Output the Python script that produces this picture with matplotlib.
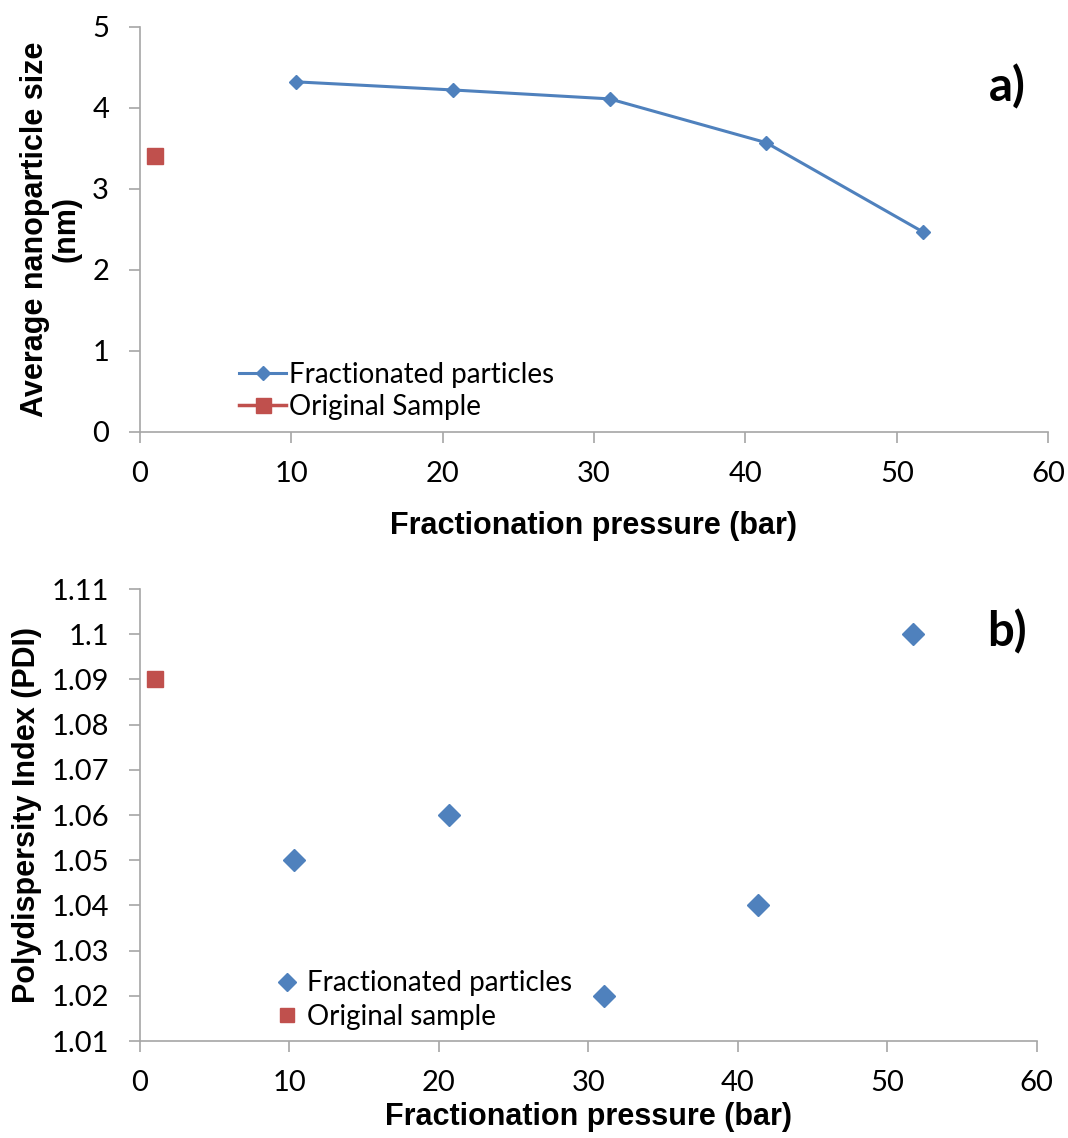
import matplotlib.pyplot as plt

# datos
presion = [10.34, 20.68, 31.03, 41.37, 51.71]
tamano = [4.32, 4.22, 4.11, 3.57, 2.47]
pdi = [1.05, 1.06, 1.02, 1.04, 1.10]
presion_orig = [1.0]
tamano_orig = [3.41]
pdi_orig = [1.09]

azul = '#4F81BD'
rojo = '#C0504D'
gris = '#A6A6A6'

plt.rcParams['font.family'] = ['Lato', 'DejaVu Sans']

fig = plt.figure(figsize=(10.68, 11.38), dpi=100)
ax1 = fig.add_axes([0.1308, 0.6204, 0.8507, 0.3561])
ax2 = fig.add_axes([0.1308, 0.0852, 0.8399, 0.3972])


def estilo(ax):
    for s in ['top', 'right']:
        ax.spines[s].set_visible(False)
    for s in ['left', 'bottom']:
        ax.spines[s].set_color(gris)
        ax.spines[s].set_linewidth(1.2)
    ax.tick_params(direction='out', length=8, width=1.2, color=gris,
                   labelsize=21)
    ax.tick_params(axis='y', pad=14)
    ax.tick_params(axis='x', pad=13)
    ax.set_xlim(0, 60)
    ax.set_xticks(range(0, 61, 10))


# a) tamano medio
ax1.plot(presion, tamano, '-D', color=azul, lw=2.2, ms=7.5,
         label='Fractionated particles')
ax1.plot(presion_orig, tamano_orig, '-s', color=rojo, lw=2.5, ms=12,
         label='Original Sample')
estilo(ax1)
ax1.set_ylim(0, 5)
ax1.set_yticks(range(0, 6))
ax1.set_xlabel('Fractionation pressure (bar)', family='Liberation Sans',
               fontweight='bold', fontsize=22, labelpad=17)
ax1.set_ylabel('Average nanoparticle size\n(nm)', family='Liberation Sans',
               fontweight='bold', fontsize=22, labelpad=8, linespacing=1.05)
ax1.text(0.9545, 0.852, 'a)', transform=ax1.transAxes, fontsize=34,
         fontweight='bold', ha='center', va='center')
ax1.legend(loc='lower left', bbox_to_anchor=(0.097, 0.003), frameon=False,
           fontsize=20, handlelength=1.7, handletextpad=0.1,
           labelspacing=0.22, borderaxespad=0, markerscale=0.9)

# b) PDI
ax2.plot(presion, pdi, 'D', color=azul, ms=11, label='Fractionated particles')
ax2.plot(presion_orig, pdi_orig, 's', color=rojo, ms=12,
         label='Original sample')
estilo(ax2)
ax2.set_ylim(1.01, 1.11)
ax2.set_yticks([1.01, 1.02, 1.03, 1.04, 1.05, 1.06, 1.07, 1.08, 1.09, 1.10, 1.11])
ax2.set_yticklabels(['1.01', '1.02', '1.03', '1.04', '1.05', '1.06', '1.07',
                     '1.08', '1.09', '1.1', '1.11'])
ax2.set_xlabel('Fractionation pressure (bar)', family='Liberation Sans',
               fontweight='bold', fontsize=22, labelpad=4)
ax2.set_ylabel('Polydispersity Index (PDI)', family='Liberation Sans',
               fontweight='bold', fontsize=22, labelpad=7)
ax2.text(0.967, 0.905, 'b)', transform=ax2.transAxes, fontsize=34,
         fontweight='bold', ha='center', va='center')
ax2.legend(loc='lower left', bbox_to_anchor=(0.14, 0.0), frameon=False,
           fontsize=20, handlelength=0.8, handletextpad=0.3,
           labelspacing=0.27, borderaxespad=0, markerscale=0.8)

fig.savefig('out.png', dpi=100)
